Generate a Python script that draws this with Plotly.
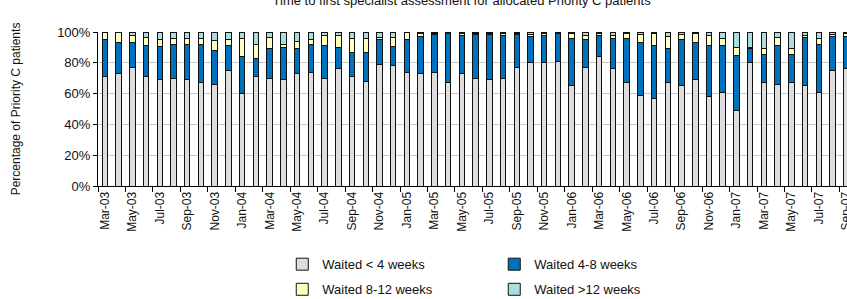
import plotly.graph_objects as go

months = ["Mar-03","Apr-03","May-03","Jun-03","Jul-03","Aug-03","Sep-03","Oct-03","Nov-03","Dec-03",
          "Jan-04","Feb-04","Mar-04","Apr-04","May-04","Jun-04","Jul-04","Aug-04","Sep-04","Oct-04","Nov-04","Dec-04",
          "Jan-05","Feb-05","Mar-05","Apr-05","May-05","Jun-05","Jul-05","Aug-05","Sep-05","Oct-05","Nov-05","Dec-05",
          "Jan-06","Feb-06","Mar-06","Apr-06","May-06","Jun-06","Jul-06","Aug-06","Sep-06","Oct-06","Nov-06","Dec-06",
          "Jan-07","Feb-07","Mar-07","Apr-07","May-07","Jun-07","Jul-07","Aug-07","Sep-07"]

lt4 = [71, 73, 77, 71, 69, 70, 69, 67, 66, 75,
       60, 71, 70, 69, 73, 74, 70, 76, 71, 68, 79, 78,
       74, 73, 74, 67, 73, 70, 69, 70, 77, 80, 80, 81,
       65, 77, 84, 76, 67, 59, 57, 67, 65, 69, 58, 61,
       49, 80, 67, 66, 67, 65, 61, 75, 76]
w4_8 = [24, 20, 16, 20.5, 21.5, 22, 23, 25, 22, 16,
        24, 11.5, 19, 21, 16.5, 18, 21.5, 14, 15.5, 18.5, 16, 12.5,
        21, 24, 24.5, 32, 25, 28.5, 29.5, 28, 21.5, 17, 18, 18,
        31, 18, 13.5, 19.5, 28.5, 34, 34, 22, 30, 24.5, 33, 30,
        36, 9, 18.5, 25, 18.5, 31.5, 31, 22, 21]
w8_12 = [4.5, 6.5, 5, 5, 4.5, 3.5, 4, 3.5, 6.5, 4,
         11.5, 9.5, 7.5, 2, 4.5, 3, 6.5, 7.5, 9.5, 9.5, 1.5, 6,
         4.5, 2, 0.5, 0.5, 1, 0.8, 0.8, 0.8, 0.8, 1.6, 1.2, 0.5,
         3, 3, 1.5, 2.5, 3.5, 5.5, 8, 8, 3.5, 5.5, 6.5, 4.5,
         5, 1, 3.7, 5.5, 3.7, 1.5, 3.5, 1.5, 2]
gt12 = [0.5, 0.5, 2, 3.5, 5, 4.5, 4, 4.5, 5.5, 5,
        4.5, 8, 3.5, 8, 6, 5, 2, 2.5, 4, 4, 3.5, 3.5,
        0.5, 1, 1, 0.5, 1, 0.7, 0.7, 1.2, 0.7, 1.4, 0.8, 0.5,
        1, 2, 1, 2, 1, 1.5, 1, 3, 1.5, 1, 2.5, 4.5,
        10, 10, 10.8, 3.5, 10.8, 2, 4.5, 1.5, 1]

series_names = ["Waited < 4 weeks", "Waited 4-8 weeks", "Waited 8-12 weeks", "Waited >12 weeks"]
series_vals = [lt4, w4_8, w8_12, gt12]
colors = ["#DDDDDD", "#0071BC", "#FFFFC0", "#A8DEDE"]
legends = ["legend", "legend", "legend2", "legend2"]

FONT = "Arial, Liberation Sans, sans-serif"
xs = list(range(len(months)))

fig = go.Figure()
for name, vals, col, lg in zip(series_names, series_vals, colors, legends):
    fig.add_trace(go.Bar(
        x=xs, y=vals, name=name, width=0.4,
        marker=dict(color=col, line=dict(color="#111111", width=1)),
        legend=lg,
    ))

tick_idx = xs[::2]
fig.update_layout(
    barmode="stack",
    width=847, height=299,
    margin=dict(l=98, r=0, t=32, b=113, autoexpand=False),
    paper_bgcolor="white", plot_bgcolor="white",
    font=dict(family=FONT, size=13, color="#111111"),
    title=dict(text="Time to first specialist assessment for allocated Priority C patients",
               x=0.545, xanchor="center", y=1.0, yanchor="middle",
               font=dict(family=FONT, size=13, color="#111111")),
    xaxis=dict(
        range=[-0.5, 54.05], automargin=False, ticklabeloverflow="allow",
        tickmode="array", tickvals=tick_idx, ticktext=[months[i] for i in tick_idx],
        tickangle=-90, ticks="", tickfont=dict(size=12, family=FONT, color="#111111"),
        showline=True, linecolor="black", linewidth=1, showgrid=False, zeroline=False,
        minor=dict(tickmode="array", tickvals=[i - 0.5 for i in tick_idx],
                   ticks="outside", ticklen=5, tickcolor="black", tickwidth=1, showgrid=False),
    ),
    yaxis=dict(
        range=[0, 100], automargin=False, tickvals=[0, 20, 40, 60, 80, 100],
        ticktext=["0%", "20%", "40%", "60%", "80%", "100%"],
        tickfont=dict(size=13, family=FONT, color="#111111"),
        ticks="outside", ticklen=4, tickcolor="black",
        showline=True, linecolor="black", linewidth=1,
        showgrid=True, gridcolor="#C8C8C8", gridwidth=1, zeroline=False,
        title=dict(text="Percentage of Priority C patients", standoff=33,
                   font=dict(size=12, family=FONT, color="#111111")),
    ),
    legend=dict(orientation="h", x=0.246, y=-0.508, xanchor="left", yanchor="middle",
                traceorder="normal",
                entrywidth=167, entrywidthmode="pixels", font=dict(size=13, family=FONT),
                bgcolor="rgba(0,0,0,0)"),
    legend2=dict(orientation="h", x=0.246, y=-0.671, xanchor="left", yanchor="middle",
                 traceorder="normal",
                 entrywidth=167, entrywidthmode="pixels", font=dict(size=13, family=FONT),
                 bgcolor="rgba(0,0,0,0)"),
    showlegend=True,
)

fig.write_html("out.html", config={"displayModeBar": False},
               post_script="document.body.style.margin='0px';document.body.style.overflow='hidden';")
